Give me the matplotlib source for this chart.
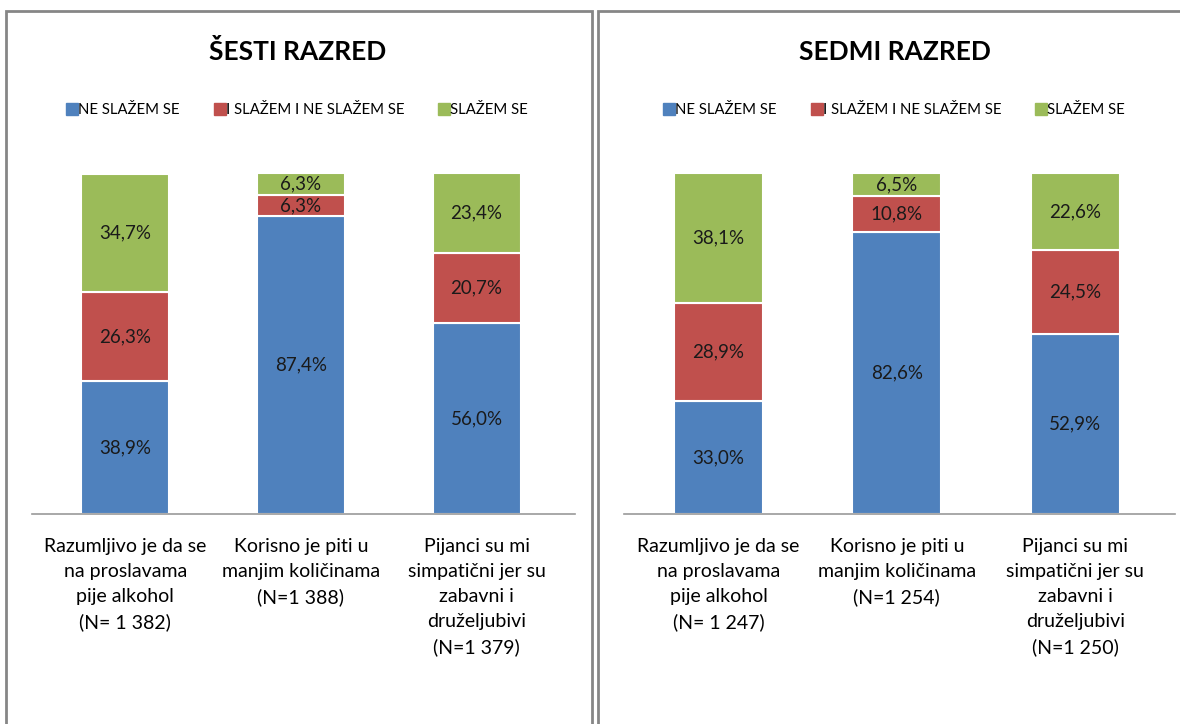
import matplotlib.pyplot as plt
from matplotlib.patches import Rectangle
from matplotlib.lines import Line2D

plt.rcParams['font.family'] = ['Lato', 'DejaVu Sans']

categories_6 = ["Razumljivo je da se\nna proslavama\npije alkohol\n(N= 1 382)",
                "Korisno je piti u\nmanjim količinama\n(N=1 388)",
                "Pijanci su mi\nsimpatični jer su\nzabavni i\ndruželjubivi\n(N=1 379)"]
categories_7 = ["Razumljivo je da se\nna proslavama\npije alkohol\n(N= 1 247)",
                "Korisno je piti u\nmanjim količinama\n(N=1 254)",
                "Pijanci su mi\nsimpatični jer su\nzabavni i\ndruželjubivi\n(N=1 250)"]
series_names = ["NE SLAŽEM SE", "I SLAŽEM I NE SLAŽEM SE", "SLAŽEM SE"]
ne_6 = [38.9, 87.4, 56.0]
ni_6 = [26.3, 6.3, 20.7]
da_6 = [34.7, 6.3, 23.4]
ne_7 = [33.0, 82.6, 52.9]
ni_7 = [28.9, 10.8, 24.5]
da_7 = [38.1, 6.5, 22.6]
colors = ["#4F81BD", "#C0504D", "#9BBB59"]

W, H = 1180, 724
fig = plt.figure(figsize=(W / 100, H / 100), dpi=100)


def fx(px):
    return px / W


def fy(py):
    return 1 - py / H


# panel borders
fig.patches.append(Rectangle((fx(6), fy(740)), fx(586), fy(11) - fy(740), transform=fig.transFigure,
                             fill=False, edgecolor="#868686", linewidth=2))
fig.patches.append(Rectangle((fx(598), fy(740)), fx(600), fy(11) - fy(740), transform=fig.transFigure,
                             fill=False, edgecolor="#868686", linewidth=2))

panels = [
    ("ŠESTI RAZRED", categories_6, [ne_6, ni_6, da_6], 32, 575, 298),
    ("SEDMI RAZRED", categories_7, [ne_7, ni_7, da_7], 624, 1175, 895),
]

for title, cats, series, x0, x1, xc in panels:
    ax = fig.add_axes([fx(x0), fy(514), fx(x1 - x0), fy(173) - fy(514)])
    x = range(len(cats))
    bottom = [0, 0, 0]
    for vals, col in zip(series, colors):
        ax.bar(x, vals, 0.5, bottom=bottom, color=col, edgecolor="white", linewidth=1.5)
        for i, v in enumerate(vals):
            ax.text(i, bottom[i] + v / 2, f"{v:.1f}%".replace(".", ","), ha="center", va="center",
                    fontsize=13.5, color="#1a1a1a")
        bottom = [b + v for b, v in zip(bottom, vals)]
    ax.set_xlim(-0.53, 2.56)
    ax.set_ylim(0, max(bottom))
    ax.set_yticks([])
    ax.set_xticks(list(x))
    ax.set_xticklabels(cats, fontsize=14, linespacing=1.58, va="top")
    ax.tick_params(axis="x", length=0, pad=17)
    for s in ["top", "right", "left"]:
        ax.spines[s].set_visible(False)
    ax.spines["bottom"].set_color("#9a9a9a")
    ax.spines["bottom"].set_linewidth(1.2)

    fig.text(fx(xc), fy(52), title, ha="center", va="center", fontsize=19, fontweight="bold")
    handles = [Line2D([], [], marker="s", linestyle="", markersize=8, color=c) for c in colors]
    fig.legend(handles, series_names, loc="center", bbox_to_anchor=(fx(xc), fy(110)), ncol=3,
               frameon=False, fontsize=10.7, handlelength=0.6, handletextpad=0.1, columnspacing=2.4)

fig.savefig("out.png", dpi=100)
